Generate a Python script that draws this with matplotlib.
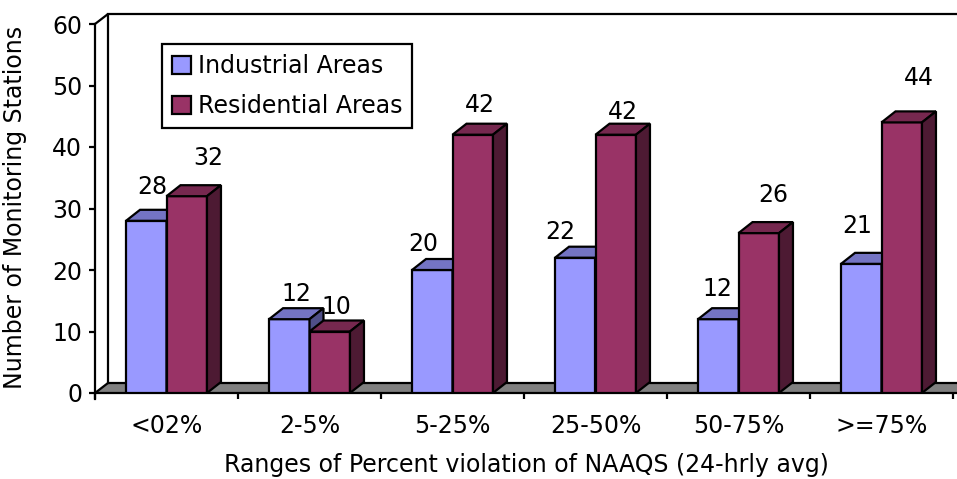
import matplotlib
matplotlib.use("Agg")
import matplotlib.pyplot as plt
from matplotlib.patches import Polygon, Patch

# ---- data -------------------------------------------------------------
categories = ["<02%", "2-5%", "5-25%", "25-50%", "50-75%", ">=75%"]
industrial = [28, 12, 20, 22, 12, 21]
residential = [32, 10, 42, 42, 26, 44]
series_names = ["Industrial Areas", "Residential Areas"]
y_ticks = [0, 10, 20, 30, 40, 50, 60]

# label nudges (pixels, x / up) for each series, per category
industrial_nudge = [(-1, 23), (0, 14), (-16, 15), (-22, 15), (-8, 19), (-11, 27)]
residential_nudge = [(15, 27), (0, 13), (0, 19), (0, 12), (8, 27), (10, 33)]

# ---- style ------------------------------------------------------------
face = ["#9999FF", "#993366"]
top = ["#7474C4", "#76284F"]
side = ["#4F4F88", "#4D1A33"]
FS = 17
LW = 1.6

W, H = 957, 479
fig = plt.figure(figsize=(W / 100, H / 100), dpi=100)
ax = fig.add_axes([95 / W, 86 / H, 858 / W, 369 / H])
ax.set_xlim(0, len(categories))
ax.set_ylim(0, 60)

px_x = 858 / len(categories)
px_y = 369 / 60
wall_dx, wall_dy = 13 / px_x, 10 / px_y
bar_dx, bar_dy = 14 / px_x, 11 / px_y

# floor and back wall of the 3-D box
n = len(categories)
floor = Polygon([(0, 0), (n + 0.2, 0), (n + 0.2 + wall_dx, wall_dy), (wall_dx, wall_dy)],
                closed=True, facecolor="#808080", edgecolor="black", lw=LW,
                clip_on=False, zorder=1)
ax.add_patch(floor)
ax.plot([0, wall_dx, wall_dx], [60, 60 + wall_dy, wall_dy], color="black", lw=LW,
        clip_on=False, zorder=1, solid_joinstyle="miter")
ax.plot([wall_dx, n + 0.5], [60 + wall_dy, 60 + wall_dy], color="black", lw=LW,
        clip_on=False, zorder=1)

# 3-D bars
gap = 0.217
width = (1 - 2 * gap) / 2
for k, (vals, nudges) in enumerate([(industrial, industrial_nudge),
                                    (residential, residential_nudge)]):
    for i, v in enumerate(vals):
        x0 = i + gap + k * width
        z = 3 + k
        ax.bar(x0, v, width, align="edge", color=face[k], edgecolor="black",
               lw=LW, zorder=z)
        ax.add_patch(Polygon([(x0, v), (x0 + width, v),
                              (x0 + width + bar_dx, v + bar_dy), (x0 + bar_dx, v + bar_dy)],
                             closed=True, facecolor=top[k], edgecolor="black",
                             lw=LW, zorder=z, clip_on=False))
        ax.add_patch(Polygon([(x0 + width, 0), (x0 + width + bar_dx, bar_dy),
                              (x0 + width + bar_dx, v + bar_dy), (x0 + width, v)],
                             closed=True, facecolor=side[k], edgecolor="black",
                             lw=LW, zorder=z, clip_on=False))
        nx, ny = nudges[i]
        ax.annotate(f"{v}", (x0 + width / 2 + bar_dx / 2, v + bar_dy),
                    xytext=(nx, ny), textcoords="offset pixels",
                    ha="center", va="center", fontsize=FS, zorder=10,
                    annotation_clip=False)

# axes
for s in ["top", "right", "bottom"]:
    ax.spines[s].set_visible(False)
ax.spines["left"].set_linewidth(LW)
ax.spines["left"].set_bounds(-1, 60)
ax.set_yticks(y_ticks)
ax.set_yticklabels([str(t) for t in y_ticks], fontsize=FS)
ax.tick_params(axis="y", direction="out", length=4.3, width=LW, pad=5)
ax.set_xticks(range(n + 1))
ax.set_xticklabels([""] * (n + 1))
ax.tick_params(axis="x", which="major", direction="out", length=4.3, width=LW)
ax.set_xticks([i + 0.5 for i in range(n)], minor=True)
ax.set_xticklabels(categories, minor=True, fontsize=FS)
ax.tick_params(axis="x", which="minor", length=0, pad=15)

fig.text(15 / W, 1 - 207 / H, "Number of Monitoring Stations", rotation=90,
         ha="center", va="center", fontsize=FS)
fig.text(526 / W, 1 - 465 / H, "Ranges of Percent violation of NAAQS (24-hrly avg)",
         ha="center", va="center", fontsize=FS)

handles = [Patch(facecolor=face[k], edgecolor="black", lw=LW) for k in range(2)]
leg = ax.legend(handles, series_names, loc="upper left",
                bbox_to_anchor=(162 / W, 1 - 44 / H), bbox_transform=fig.transFigure,
                fontsize=17, frameon=True, fancybox=False, shadow=False,
                framealpha=1, borderaxespad=0, borderpad=0.42,
                handlelength=0.8, handleheight=0.8,
                handletextpad=0.3, labelspacing=0.68)
leg.get_frame().set_edgecolor("black")
leg.get_frame().set_linewidth(LW)
leg.set_zorder(20)

fig.savefig("out.png", dpi=100)
